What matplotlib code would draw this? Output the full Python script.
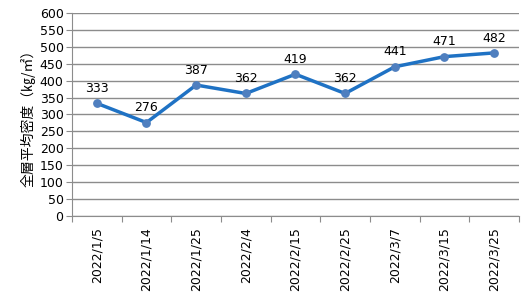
import matplotlib

matplotlib.use("Agg")
import matplotlib.pyplot as plt
import numpy as np

dates = ["2022/1/5", "2022/1/14", "2022/1/25", "2022/2/4", "2022/2/15",
         "2022/2/25", "2022/3/7", "2022/3/15", "2022/3/25"]
density = [333, 276, 387, 362, 419, 362, 441, 471, 482]
y_ticks = list(range(0, 601, 50))

plt.rcParams["font.family"] = ["DejaVu Sans", "Noto Sans CJK JP"]

fig = plt.figure(figsize=(5.29, 3.02), dpi=100)
ax = fig.add_axes([0.136, 0.285, 0.845, 0.672])

x = np.arange(len(dates))
ax.plot(x, density, color="#1f72c4", linewidth=2.5, zorder=3)
ax.scatter(x, density, s=28, color="#4f7fbf", zorder=4)
for xi, v in zip(x, density):
    ax.annotate(str(v), (xi, v), xytext=(0, 6), textcoords="offset points",
                ha="center", va="bottom", fontsize=9)

ax.set_xlim(-0.5, len(dates) - 0.5)
ax.set_ylim(0, 600)
ax.set_yticks(y_ticks)
ax.tick_params(axis="y", labelsize=9, length=4, color="#8c8c8c", pad=2)
ax.grid(axis="y", color="#8c8c8c", linewidth=1)
ax.set_axisbelow(True)

ax.set_xticks(np.arange(len(dates) + 1) - 0.5)
ax.set_xticklabels([])
ax.set_xticks(x, minor=True)
ax.set_xticklabels(dates, minor=True, rotation=90, fontsize=9)
ax.tick_params(axis="x", which="major", length=4, color="#8c8c8c")
ax.tick_params(axis="x", which="minor", length=0, pad=8)

for side in ["top", "right"]:
    ax.spines[side].set_visible(False)
for side in ["left", "bottom"]:
    ax.spines[side].set_color("#8c8c8c")

ax.set_ylabel("全層平均密度（㎏/㎡）", fontsize=10,
              family=["Noto Sans CJK JP", "DejaVu Sans"], labelpad=3)

fig.savefig("out.png")
